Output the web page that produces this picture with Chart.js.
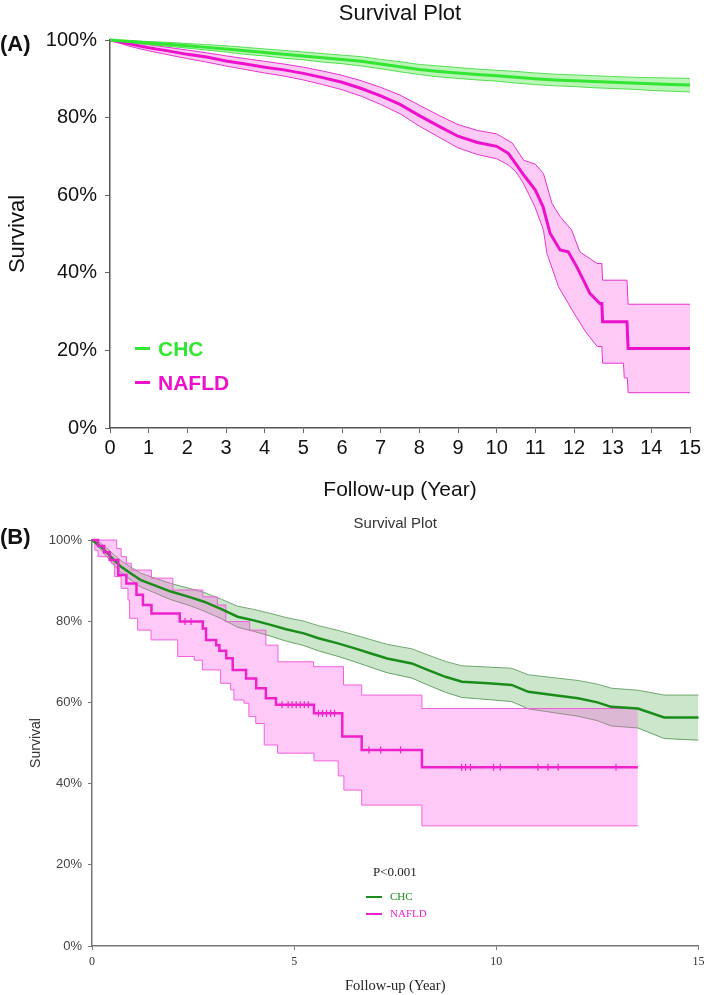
<!DOCTYPE html>
<html>
<head>
<meta charset="utf-8">
<script src="https://cdn.jsdelivr.net/npm/chart.js@4.4.1/dist/chart.umd.min.js"></script>
<style>
  html,body{margin:0;padding:0;background:#fff;}
  body{width:709px;height:995px;position:relative;overflow:hidden;font-family:"Liberation Sans",Arial,sans-serif;}
  canvas{position:absolute;left:0;}
  #cA{top:0;}
  #cB{top:495px;}
  .ov{position:absolute;white-space:nowrap;line-height:1;}
  .bar{position:absolute;}
</style>
</head>
<body>
<canvas id="cA" width="709" height="505"></canvas>
<canvas id="cB" width="709" height="500"></canvas>

<div class="ov" style="left:0;top:33px;font-size:22px;font-weight:bold;color:#111;">(A)</div>
<div class="ov" style="left:0;top:526px;font-size:22px;font-weight:bold;color:#111;">(B)</div>

<div class="bar" style="left:135px;top:347px;width:15px;height:3px;background:#33e633;"></div>
<div class="ov" style="left:158px;top:338px;font-size:21px;font-weight:bold;color:#33e633;">CHC</div>
<div class="bar" style="left:135px;top:381px;width:15px;height:3px;background:#ee11cc;"></div>
<div class="ov" style="left:158px;top:372px;font-size:21px;font-weight:bold;color:#ee11cc;">NAFLD</div>

<div class="ov" style="left:373px;top:865px;font-size:13px;font-family:'Liberation Serif',serif;color:#222;">P&lt;0.001</div>
<div class="bar" style="left:366px;top:896px;width:16px;height:2px;background:#1a8c1a;"></div>
<div class="ov" style="left:390px;top:891px;font-size:11px;font-family:'Liberation Serif',serif;color:#1a8c1a;">CHC</div>
<div class="bar" style="left:366px;top:913px;width:16px;height:2px;background:#ee22cc;"></div>
<div class="ov" style="left:390px;top:908px;font-size:11px;font-family:'Liberation Serif',serif;color:#ee22cc;">NAFLD</div>

<script>
// ---------- Panel A data (years, survival %) ----------
const chcATimes = [0,0.5,1,1.5,2,2.5,3,3.5,4,4.5,5,5.5,6,6.5,7,7.5,8,8.5,9,9.5,10,10.5,11,11.5,12,12.5,13,13.5,14,14.5,15];
const chcASurv  = [100,99.6,99.2,98.9,98.5,98.1,97.7,97.2,96.8,96.3,95.9,95.4,95.0,94.5,93.8,93.1,92.4,91.9,91.5,91.1,90.8,90.4,90.0,89.7,89.5,89.3,89.1,88.9,88.7,88.5,88.4];
const chcAUpper = [100,99.9,99.6,99.4,99.1,98.8,98.5,98.1,97.7,97.3,96.9,96.5,96.1,95.7,95.0,94.4,93.7,93.3,92.9,92.5,92.2,91.9,91.5,91.2,91.0,90.8,90.6,90.4,90.3,90.2,90.1];
const chcALower = [100,99.3,98.8,98.4,97.9,97.4,96.9,96.3,95.9,95.3,94.9,94.3,93.9,93.3,92.6,91.8,91.1,90.5,90.1,89.7,89.4,88.9,88.5,88.2,88.0,87.7,87.5,87.3,87.0,86.8,86.6];

const nafATimes = [0,0.5,1,1.5,2,2.5,3,3.5,4,4.5,5,5.5,6,6.5,7,7.5,8,8.5,9,9.5,10,10.3,10.5,10.7,11,11.2,11.38,11.64,11.85,12.07,12.25,12.41,12.67,12.72,12.74,13.37,13.4,15];
const nafASurv  = [100,99,98,97.2,96.3,95.6,94.6,93.8,93,92.3,91.4,90.3,89.1,87.5,85.6,83.4,80.5,77.8,75.2,73.6,72.6,70.8,68,65.2,61.3,57,50.2,45.9,45.4,41.6,38,34.7,32.1,32.1,27.4,27.4,20.5,20.5];
const nafAUpperTimes = [0,0.5,1,1.5,2,2.5,3,3.5,4,4.5,5,5.5,6,6.5,7,7.5,8,8.5,9,9.5,10,10.4,10.7,11,11.21,11.43,11.64,11.94,12.15,12.6,12.72,12.74,13.37,13.4,15];
const nafAUpper = [100,99.6,98.8,98.1,97.4,96.7,95.9,95.2,94.5,93.8,93,92,90.9,89.5,87.8,85.8,83.2,80.6,78.2,76.7,75.8,73.5,69,68,65.6,57.9,54.5,51,45.4,42.4,42.4,38.1,38.1,31.9,31.9];
const nafALowerTimes = [0,0.5,1,1.5,2,2.5,3,3.5,4,4.5,5,5.5,6,6.5,7,7.5,8,8.5,9,9.5,10,10.3,10.5,10.69,10.99,11.21,11.3,11.6,12.0,12.3,12.6,12.72,12.74,13.28,13.3,13.38,13.4,15];
const nafALower = [100,98.4,97.2,96.2,95.2,94.3,93.3,92.4,91.5,90.7,89.7,88.5,87.2,85.5,83.4,81,77.8,75,72.2,70.5,69.4,67.8,66,63.1,57,51,45,36.4,29.6,24.8,21,21,16.7,16.7,12.9,12.9,9.1,9.1];

// ---------- Panel B data ----------
const chcBTimes = [0,0.2,0.39,0.55,0.72,1.0,1.21,1.5,1.95,2.4,2.77,3.2,3.6,4.0,4.42,4.8,5.24,5.6,6.06,6.5,6.88,7.3,7.91,8.3,8.74,9.15,9.8,10.38,10.79,11.4,12.02,12.5,12.84,13.5,14.15,15];
const chcBSurv  = [100,98.5,96.7,95,93.4,91.5,90.1,89,87.3,86,84.8,83,81.1,80.2,79.1,78,77,75.8,74.6,73.3,72.1,70.8,69.6,68,66.3,65.1,64.7,64.3,62.6,61.8,61,60,58.9,58.5,56.3,56.3];
const chcBUpper = [100,99.3,97.8,96.3,94.9,93.1,91.8,90.8,89.3,88.1,87.1,85.4,83.7,82.9,81.9,80.9,80,78.9,77.8,76.6,75.5,74.3,73.2,71.7,70.1,69,68.7,68.4,66.8,66.1,65.4,64.5,63.5,63.0,61.8,61.8];
const chcBLower = [100,97.7,95.6,93.7,91.9,89.9,88.4,87.2,85.3,83.9,82.5,80.6,78.5,77.5,76.3,75.1,74,72.7,71.4,70,68.7,67.3,66,64.3,62.5,61.2,60.7,60.2,58.4,57.5,56.6,55.5,54.2,53.7,51.1,50.7];

const nafBTimes = [0,0.15,0.3,0.44,0.65,0.85,1.1,1.26,1.47,2.17,2.74,2.82,3.07,3.15,3.32,3.48,3.81,4.06,4.3,4.55,5.49,6.19,6.67,8.16,13.5];
const nafBSurv  = [100,98.5,97,95.1,91.4,89.3,86.5,84,81.9,79.9,78.2,75.4,74.1,72.7,70.9,68,65.9,63.5,61,59.4,57.3,51.6,48.3,44,44];
const nafBUpperTimes = [0,0.61,0.72,0.85,0.97,1.47,2.0,2.74,3.1,3.31,3.9,4.3,4.6,5.48,6.22,6.67,8.16,13.5];
const nafBUpper = [100,97.9,95.9,94.3,92.6,90.6,87.7,86,84,79.9,77.8,74.1,70,68.8,64.3,61.8,58.5,58.5];
const nafBLowerTimes = [0,0.07,0.15,0.48,0.56,0.72,0.89,0.93,1.13,1.46,2.12,2.53,2.73,3.18,3.43,3.51,3.76,3.88,4.05,4.26,4.59,5.49,6.09,6.23,6.67,8.16,13.5];
const nafBLower = [100,97.5,95.9,94.2,91,88.1,85.2,80.7,77.8,75.4,71.3,70.4,68,64.7,63.1,60.6,59.8,56.5,54.8,49.5,47.5,45.6,41.9,38.4,34.7,29.6,29.6];
const nafBCensorTimes = [2.3,2.45,4.7,4.85,4.95,5.05,5.15,5.25,5.35,5.6,5.7,5.8,5.9,6.0,6.85,7.14,7.63,9.14,9.24,9.36,9.93,10.1,11.03,11.28,11.53,12.96];
const nafBCensorSurv  = [79.9,79.9,59.4,59.4,59.4,59.4,59.4,59.4,59.4,57.3,57.3,57.3,57.3,57.3,48.3,48.3,48.3,44,44,44,44,44,44,44,44,44];

// Axis ticks
const xTicksA = {min:0, max:15, step:1};
const yTicks = {min:0, max:100, step:20};
const xTicksB = {min:0, max:15, step:5};

function pts(ts, vs){ return ts.map((t,i)=>({x:t, y:vs[i]})); }

Chart.defaults.font.family = "'Liberation Sans', Arial, sans-serif";
Chart.defaults.animation = false;

function lineDS(label, ts, vs, color, width, stepped){
  return {label, data: pts(ts, vs), borderColor: color, backgroundColor: color, borderWidth: width,
          pointRadius: 0, stepped: stepped, tension: 0, fill: false, clip: false};
}
function bandDS(label, ts, vs, color, fillColor, fill, stepped){
  return {label, data: pts(ts, vs), borderColor: color, backgroundColor: fillColor, borderWidth: 1,
          pointRadius: 0, stepped: stepped, tension: 0, fill: fill, clip: false};
}

// ---------- Chart A ----------
new Chart(document.getElementById('cA'), {
  type: 'line',
  data: {
    datasets: [
      lineDS('CHC', chcATimes, chcASurv, '#33e633', 3, false),
      lineDS('NAFLD', nafATimes, nafASurv, '#ee11cc', 3, false),
      bandDS('CHC upper', chcATimes, chcAUpper, '#55e055', 'rgba(60,225,50,0.35)', '+1', false),
      bandDS('CHC lower', chcATimes, chcALower, '#55e055', 'rgba(60,225,50,0.35)', false, false),
      bandDS('NAFLD upper', nafAUpperTimes, nafAUpper, '#e830d0', 'rgba(245,80,220,0.3)', '+1', false),
      bandDS('NAFLD lower', nafALowerTimes, nafALower, '#e830d0', 'rgba(245,80,220,0.3)', false, false)
    ]
  },
  options: {
    responsive: false,
    events: [],
    layout: {padding: {left:0, right:19, top:0, bottom:0}},
    plugins: {
      legend: {display:false},
      tooltip: {enabled:false},
      title: {display:true, text:'Survival Plot', fullSize:false, color:'#111',
              font:{size:22, weight:'normal'}, padding:{top:0.3, bottom:13.3}}
    },
    scales: {
      x: {type:'linear', min:xTicksA.min, max:xTicksA.max,
          ticks:{stepSize:xTicksA.step, color:'#111', font:{size:20}, padding:3, maxRotation:0, autoSkip:false},
          grid:{display:true, drawOnChartArea:false, drawTicks:true, tickLength:5, color:'#666'},
          border:{display:true, color:'#555', width:1.5},
          title:{display:true, text:'Follow-up (Year)', color:'#111', font:{size:21}, padding:{top:0, bottom:2.4}},
          afterFit: s => { s.height = 77; }},
      y: {type:'linear', min:yTicks.min, max:yTicks.max,
          ticks:{stepSize:yTicks.step, color:'#111', font:{size:20}, padding:8, callback: v => v + '%'},
          grid:{display:true, drawOnChartArea:false, drawTicks:true, tickLength:5, color:'#666'},
          border:{display:true, color:'#555', width:1.5},
          title:{display:true, text:'Survival', color:'#111', font:{size:22}, padding:{top:4.8, bottom:0}},
          afterFit: s => { s.width = 110; }}
    }
  }
});

// ---------- Chart B ----------
new Chart(document.getElementById('cB'), {
  type: 'line',
  data: {
    datasets: [
      {label:'NAFLD censored', data: pts(nafBCensorTimes, nafBCensorSurv), showLine:false,
       pointStyle:'line', rotation:90, pointRadius:3.5, borderColor:'#ee22cc', borderWidth:1.2, clip:false},
      lineDS('NAFLD', nafBTimes, nafBSurv, '#ee22cc', 2.5, true),
      lineDS('CHC', chcBTimes, chcBSurv, '#1a8c1a', 2.5, false),
      bandDS('NAFLD upper', nafBUpperTimes, nafBUpper, '#f060dc', 'rgba(255,90,230,0.33)', '+1', true),
      bandDS('NAFLD lower', nafBLowerTimes, nafBLower, '#f060dc', 'rgba(255,90,230,0.33)', false, true),
      bandDS('CHC upper', chcBTimes, chcBUpper, '#6fa86f', 'rgba(0,128,0,0.2)', '+1', false),
      bandDS('CHC lower', chcBTimes, chcBLower, '#6fa86f', 'rgba(0,128,0,0.2)', false, false)
    ]
  },
  options: {
    responsive: false,
    events: [],
    layout: {padding: {left:0, right:8, top:0, bottom:0}},
    plugins: {
      legend: {display:false},
      tooltip: {enabled:false},
      title: {display:true, text:'Survival Plot', fullSize:false, color:'#333',
              font:{size:15, weight:'normal'}, padding:{top:20, bottom:7}}
    },
    scales: {
      x: {type:'linear', min:xTicksB.min, max:xTicksB.max,
          ticks:{stepSize:xTicksB.step, color:'#333', font:{size:12, family:"'Liberation Serif', serif"}, padding:4.5, maxRotation:0},
          grid:{display:true, drawOnChartArea:false, drawTicks:true, tickLength:4, color:'#777'},
          border:{display:true, color:'#777', width:1.5},
          title:{display:true, text:'Follow-up (Year)', color:'#222', font:{size:14.5, family:"'Liberation Serif', serif"}, padding:{top:0, bottom:0}},
          afterFit: s => { s.height = 49; }},
      y: {type:'linear', min:yTicks.min, max:yTicks.max,
          ticks:{stepSize:yTicks.step, color:'#444', font:{size:13}, padding:6, callback: v => v + '%'},
          grid:{display:true, drawOnChartArea:false, drawTicks:true, tickLength:4, color:'#777'},
          border:{display:true, color:'#777', width:1.5},
          title:{display:true, text:'Survival', color:'#333', font:{size:14}, padding:{top:27.6, bottom:0}},
          afterFit: s => { s.width = 92; }}
    }
  }
});
</script>
</body>
</html>
